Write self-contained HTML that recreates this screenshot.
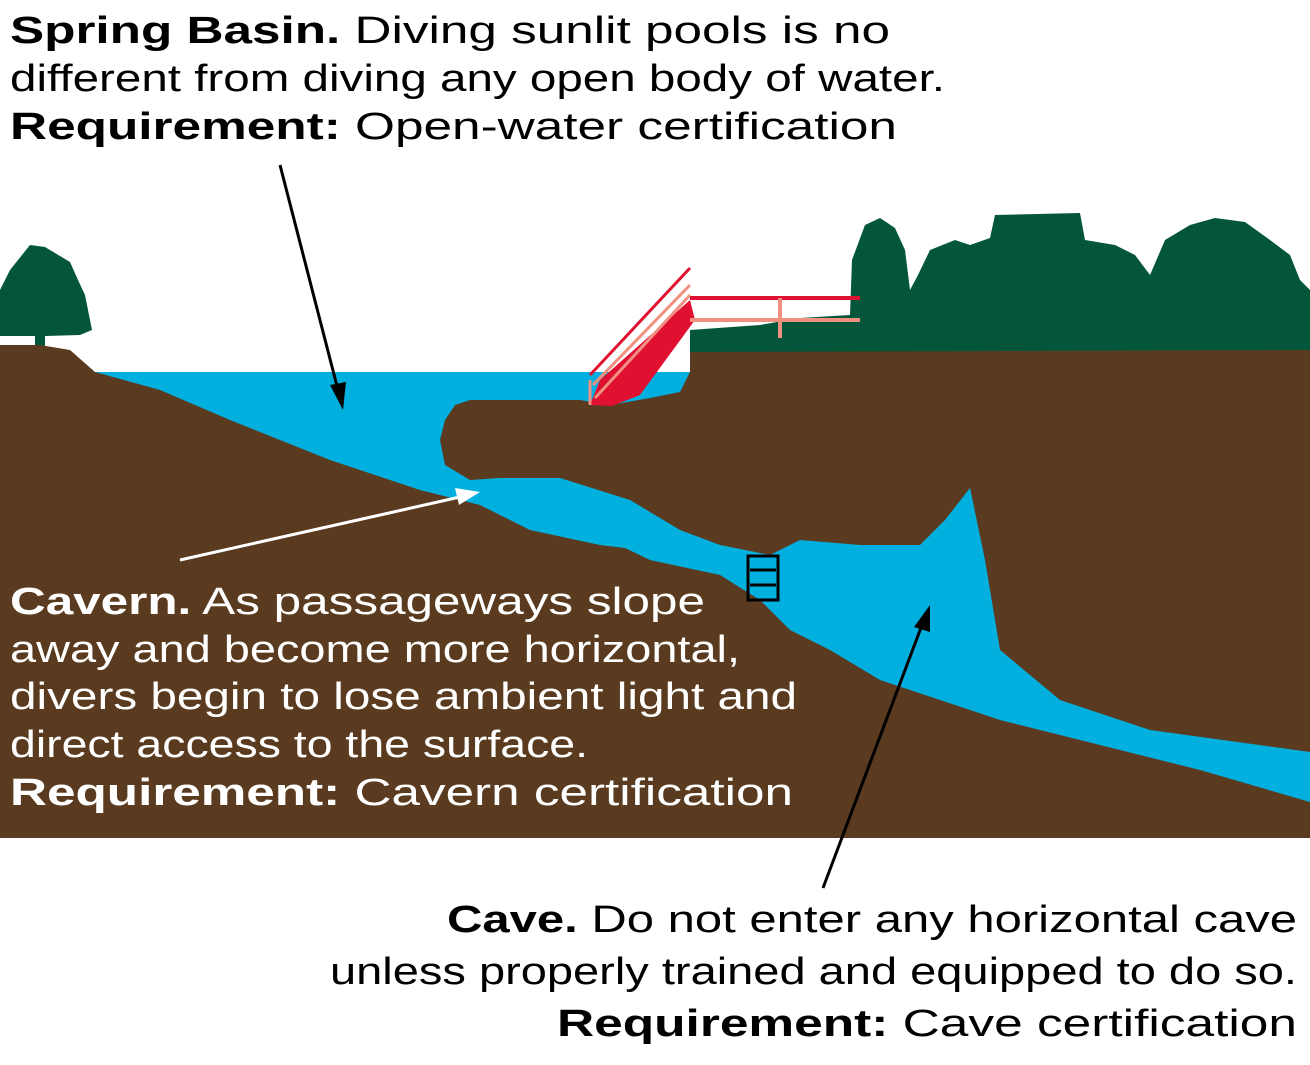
<!DOCTYPE html>
<html><head><meta charset="utf-8"><style>
html,body{margin:0;padding:0;background:#fff;}
svg{display:block}
text{font-family:"Liberation Sans",sans-serif;font-size:38px;}
.b{font-weight:bold}
</style></head><body>
<svg width="1310" height="1065" viewBox="0 0 1310 1065" xmlns="http://www.w3.org/2000/svg">
<rect width="1310" height="1065" fill="#fff"/>
<!-- trees right -->
<path fill="#04563a" d="M690,355 L690,330 L760,325 L800,318 L850,315 L852,260 L865,225 L880,218 L895,228 L905,250 L910,290 L918,275 L930,250 L955,240 L970,245 L990,238 L995,215 L1080,213 L1085,240 L1115,245 L1135,255 L1150,275 L1165,240 L1190,225 L1215,218 L1245,222 L1270,240 L1290,255 L1300,280 L1310,290 L1310,360 Z"/>
<!-- left tree -->
<path fill="#04563a" d="M0,340 L0,290 L10,270 L30,245 L45,247 L70,262 L78,280 L85,295 L92,330 L80,335 L45,336 L45,347 L35,347 L35,336 L0,336 Z"/>
<!-- ground -->
<path fill="#5a3b1f" d="M0,345 L40,345 L70,350 L95,372 L690,372 L690,352 L1310,350 L1310,838 L0,838 Z"/>
<!-- water -->
<path fill="#02b0df" d="M95,372 L690,372 L680,392 L650,398 L610,405 L580,400 L520,400 L470,400 L455,405 L445,420 L440,440 L445,465 L470,480 L500,478 L560,478 L630,500 L680,530 L720,545 L770,555 L800,540 L860,545 L920,545 L945,520 L970,488 L985,560 L1000,650 L1060,700 L1150,730 L1310,752 L1310,802 L1200,770 L1100,745 L1000,720 L940,700 L880,680 L830,650 L790,630 L760,600 L720,575 L650,560 L625,548 L600,545 L530,530 L480,505 L420,490 L330,460 L230,420 L160,390 Z"/>
<!-- stairs -->
<path fill="#e01030" d="M590,405 L600,380 L690,300 L695,320 L640,395 L612,406 Z"/>
<path fill="none" stroke="#e01030" stroke-width="3" d="M590,375 L690,268"/>
<path fill="none" stroke="#f09080" stroke-width="3" d="M593,385 L690,285 M595,398 L690,295"/>
<path fill="none" stroke="#f09080" stroke-width="3" d="M590,380 L590,405"/>
<rect x="690" y="296" width="170" height="4" fill="#e01030"/>
<rect x="690" y="318" width="170" height="4" fill="#f09080"/>
<rect x="778" y="298" width="4" height="40" fill="#f09080"/>
<!-- sign -->
<rect x="748" y="556" width="30" height="44" fill="none" stroke="#000" stroke-width="3"/>
<path d="M750,570 H776 M750,585 H776" stroke="#000" stroke-width="3"/>
<!-- arrows -->
<line x1="280" y1="165" x2="338" y2="390" stroke="#000" stroke-width="3"/>
<path d="M343,410 L330,385 L346,382 Z" fill="#000"/>
<line x1="180" y1="560" x2="460" y2="497" stroke="#fff" stroke-width="3"/>
<path d="M480,492 L455,488 L459,505 Z" fill="#fff"/>
<line x1="823" y1="888" x2="922" y2="625" stroke="#000" stroke-width="3"/>
<path d="M930,605 L914,627 L930,632 Z" fill="#000"/>
<!-- text -->
<text x="10" y="43" textLength="880" lengthAdjust="spacingAndGlyphs"><tspan class="b">Spring Basin.</tspan> Diving sunlit pools is no</text>
<text x="10" y="91" textLength="935" lengthAdjust="spacingAndGlyphs">different from diving any open body of water.</text>
<text x="10" y="139" textLength="887" lengthAdjust="spacingAndGlyphs"><tspan class="b">Requirement:</tspan> Open-water certification</text>
<g fill="#fff">
<text x="10" y="614" textLength="695" lengthAdjust="spacingAndGlyphs"><tspan class="b">Cavern.</tspan> As passageways slope</text>
<text x="10" y="662" textLength="730" lengthAdjust="spacingAndGlyphs">away and become more horizontal,</text>
<text x="10" y="709" textLength="787" lengthAdjust="spacingAndGlyphs">divers begin to lose ambient light and</text>
<text x="10" y="757" textLength="578" lengthAdjust="spacingAndGlyphs">direct access to the surface.</text>
<text x="10" y="805" textLength="783" lengthAdjust="spacingAndGlyphs"><tspan class="b">Requirement:</tspan> Cavern certification</text>
</g>
<text x="447" y="932" textLength="850" lengthAdjust="spacingAndGlyphs"><tspan class="b">Cave.</tspan> Do not enter any horizontal cave</text>
<text x="330" y="984" textLength="967" lengthAdjust="spacingAndGlyphs">unless properly trained and equipped to do so.</text>
<text x="557" y="1036" textLength="740" lengthAdjust="spacingAndGlyphs"><tspan class="b">Requirement:</tspan> Cave certification</text>
</svg>
</body></html>
